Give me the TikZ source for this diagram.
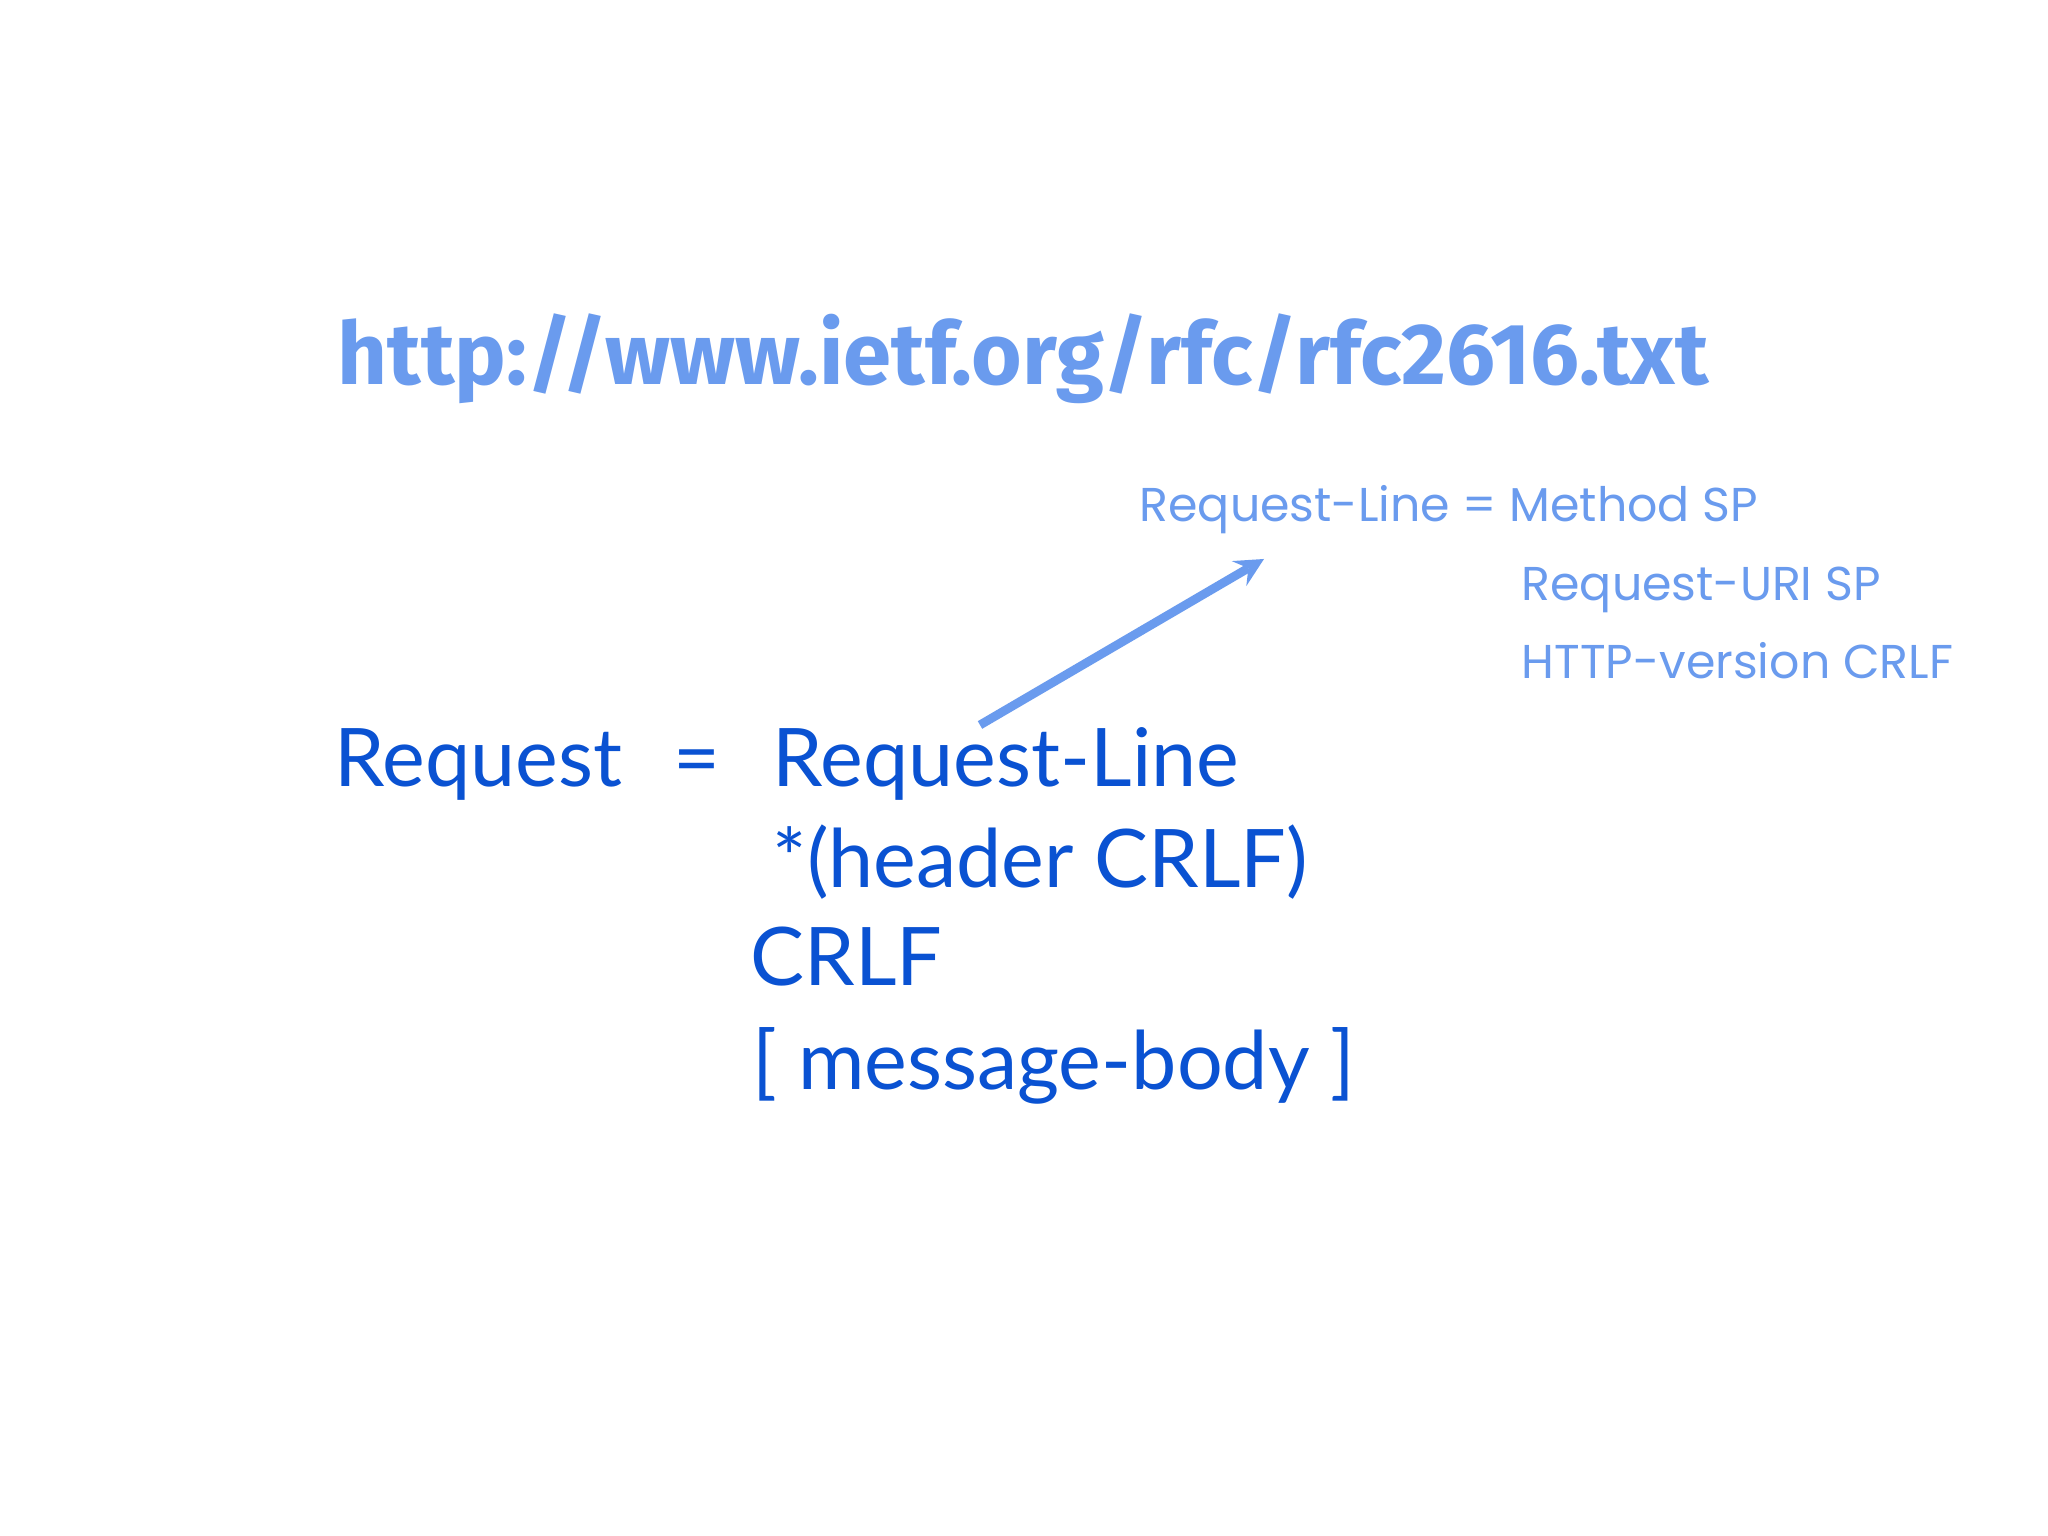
\documentclass[tikz,border=0pt]{standalone}
\usepackage{fontspec}
\setmainfont{Lato}
\newfontfamily\urlfont{Fira Sans}
\newfontfamily\handfont{Poppins}
\begin{document}
\begin{tikzpicture}[x=1cm,y=1cm,
  main/.style={anchor=base west,inner sep=0pt,text=mainblue,font=\fontsize{23}{26}\selectfont},
  hand/.style={anchor=base west,inner sep=0pt,text=lightblue,font=\handfont\fontsize{13.5}{15}\selectfont}]
\definecolor{mainblue}{HTML}{0A52D2}
\definecolor{lightblue}{HTML}{6A9BEE}
\useasboundingbox[fill=white] (0,0) rectangle (20.48,15.36);
\node[anchor=base west,inner sep=0pt,text=lightblue,font=\urlfont\bfseries\fontsize{33}{36}\selectfont] (url) at (3.37,11.51) {\resizebox{13.71cm}{!}{http://www.ietf.org/rfc/rfc2616.txt}};
\node[hand] (h1) at (11.39,10.14) {Request-Line = Method SP};
\node[hand] (h2) at (15.21,9.35) {Request-URI SP};
\node[hand] (h3) at (15.21,8.57) {HTTP-version CRLF};
\node[main] (req) at (3.34,7.49) {Request};
\node[main] (eq) at (6.73,7.49) {=};
\node[main] (rl) at (7.72,7.49) {Request-Line};
\node[main] (hd) at (7.72,6.48) {*(header CRLF)};
\node[main] (cr) at (7.50,5.50) {CRLF};
\node[main] (mb) at (7.52,4.46) {[ message-body ]};
\coordinate (as) at (9.80,8.11);
\coordinate (ae) at (12.64,9.77);
\draw[lightblue,line width=2.5pt,-stealth] (as) -- (ae);
\end{tikzpicture}
\end{document}
